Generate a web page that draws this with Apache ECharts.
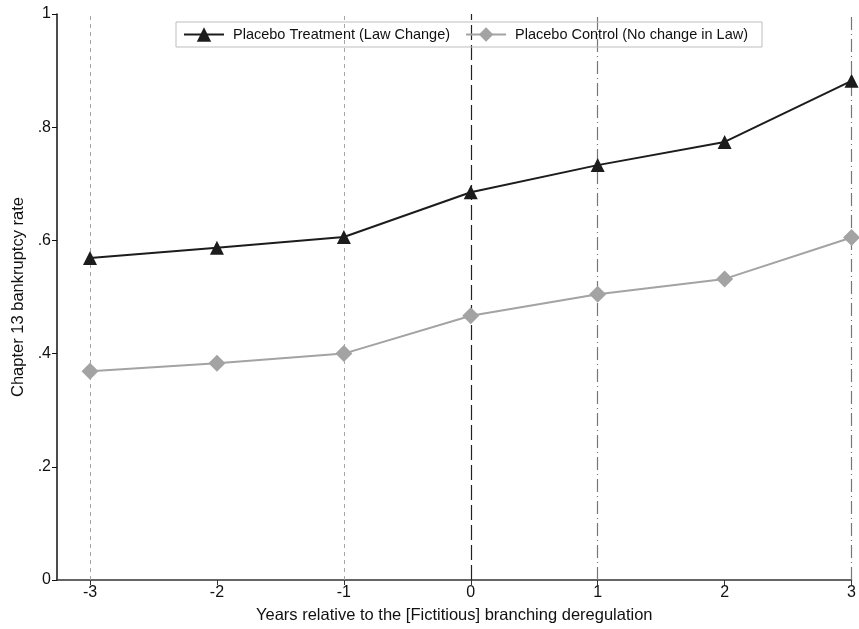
<!DOCTYPE html>
<html>
<head>
<meta charset="utf-8">
<script src="https://cdn.jsdelivr.net/npm/echarts@6/dist/echarts.min.js"></script>
<style>html,body{margin:0;padding:0;background:#fff}#c{width:859px;height:629px}</style>
</head>
<body>
<div id="c"></div>
<script>
const years = [-3, -2, -1, 0, 1, 2, 3];
const treatment = [0.569, 0.587, 0.606, 0.685, 0.733, 0.774, 0.882];
const control = [0.369, 0.383, 0.400, 0.467, 0.505, 0.532, 0.605];
const yTicks = [0, 0.2, 0.4, 0.6, 0.8, 1];
const yTickLabels = ['0', '.2', '.4', '.6', '.8', '1'];
const refGray = [-3, -1];
const refZero = [0];
const refDashDot = [1, 3];

const font = 'Liberation Sans, Arial, sans-serif';
const chart = echarts.init(document.getElementById('c'), null, {renderer: 'canvas'});

function pairs(vals) { return years.map((x, i) => [x, vals[i]]); }
function vline(x, color, type, width) {
  return { xAxis: x, lineStyle: { color: color, type: type, width: width } };
}
const markLines = []
  .concat(refGray.map(x => vline(x, '#a6a6a6', [4, 4], 1)))
  .concat(refZero.map(x => vline(x, '#222', [15, 5], 1.2)))
  .concat(refDashDot.map(x => vline(x, '#777', [13, 4, 1, 4], 1.2)));

chart.setOption({
  animation: false,
  textStyle: { fontFamily: font },
  grid: { left: 57, right: 7, top: 14, bottom: 49 },
  legend: {
    left: 176, top: 22,
    itemWidth: 40, itemHeight: 18, itemGap: 15,
    padding: [5, 14, 5, 7],
    borderColor: '#bdbdbd', borderWidth: 1,
    textStyle: { fontFamily: font, fontSize: 14.5, color: '#111', padding: [0, 0, 0, 4] },
    data: ['Placebo Treatment (Law Change)', 'Placebo Control (No change in Law)']
  },
  xAxis: {
    type: 'value', min: -3.26, max: 3,
    name: 'Years relative to the [Fictitious] branching deregulation',
    nameLocation: 'middle', nameGap: 27,
    nameTextStyle: { fontFamily: font, fontSize: 16.5, color: '#111' },
    axisLine: { show: true, onZero: false, lineStyle: { color: '#333', width: 1.5 } },
    axisTick: { show: true, length: 5, customValues: years, lineStyle: { color: '#333' } },
    axisLabel: { customValues: years, fontFamily: font, fontSize: 16, color: '#111', margin: 5,
      formatter: v => String(Math.round(v)) },
    splitLine: { show: false }
  },
  yAxis: {
    type: 'value', min: 0, max: 1, interval: 0.2,
    name: 'Chapter 13 bankruptcy rate',
    nameLocation: 'middle', nameGap: 30,
    nameTextStyle: { fontFamily: font, fontSize: 16.5, color: '#111' },
    axisLine: { show: true, onZero: false, lineStyle: { color: '#111', width: 1.5 } },
    axisTick: { show: true, length: 5, lineStyle: { color: '#111' } },
    axisLabel: { fontFamily: font, fontSize: 16, color: '#111', margin: 6,
      formatter: v => { const i = yTicks.findIndex(t => Math.abs(t - v) < 1e-6); return i >= 0 ? yTickLabels[i] : ''; } },
    splitLine: { show: false }
  },
  series: [
    {
      name: 'Placebo Treatment (Law Change)', type: 'line',
      data: pairs(treatment),
      symbol: 'triangle', symbolSize: 14, clip: false,
      lineStyle: { color: '#1c1c1c', width: 2 },
      itemStyle: { color: '#1c1c1c' },
      z: 5,
      markLine: { silent: true, symbol: 'none', label: { show: false }, data: markLines, z: 1 }
    },
    {
      name: 'Placebo Control (No change in Law)', type: 'line',
      data: pairs(control),
      symbol: 'diamond', symbolSize: 17, clip: false,
      lineStyle: { color: '#a3a3a3', width: 2 },
      itemStyle: { color: '#a3a3a3' },
      z: 4
    }
  ]
});
</script>
</body>
</html>
